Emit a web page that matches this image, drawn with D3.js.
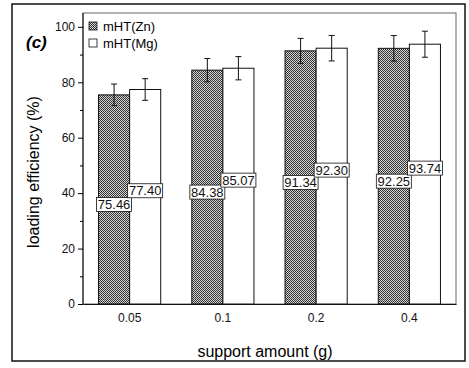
<!DOCTYPE html>
<html>
<head>
<meta charset="utf-8">
<script src="https://cdn.jsdelivr.net/npm/d3@7"></script>
<style>
  body { margin: 0; background: #fff; }
  svg { display: block; font-family: Arial, "Liberation Sans", sans-serif; }
</style>
</head>
<body>
<svg width="469" height="368"></svg>
<script>
  // Data
  var categories = ["0.05", "0.1", "0.2", "0.4"];
  var seriesNames = ["mHT(Zn)", "mHT(Mg)"];
  var znValues = [75.46, 84.38, 91.34, 92.25];
  var mgValues = [77.40, 85.07, 92.30, 93.74];
  var znErrors = [3.9, 4.2, 4.5, 4.6];
  var mgErrors = [3.9, 4.2, 4.6, 4.7];
  var yTicks = [0, 20, 40, 60, 80, 100];
  var yMinorTicks = [10, 30, 50, 70, 90];

  var margin = { top: 13, right: 13, bottom: 64, left: 83 };
  var width = 469 - margin.left - margin.right;
  var height = 368 - margin.top - margin.bottom;

  var svg = d3.select("svg");

  // hatch pattern for the Zn bars
  var defs = svg.append("defs");
  var pat = defs.append("pattern")
    .attr("id", "hatch")
    .attr("patternUnits", "userSpaceOnUse")
    .attr("width", 2)
    .attr("height", 2);
  pat.append("rect").attr("width", 2).attr("height", 2).attr("fill", "#d6d6d6");
  pat.append("rect").attr("width", 1).attr("height", 1).attr("fill", "#2a2a2a");
  pat.append("rect").attr("x", 1).attr("y", 1).attr("width", 1).attr("height", 1).attr("fill", "#3a3a3a");

  // outer frame
  svg.append("rect")
    .attr("x", 12).attr("y", 4)
    .attr("width", 453).attr("height", 357)
    .attr("fill", "none")
    .attr("stroke", "#111")
    .attr("stroke-width", 1.5);

  var g = svg.append("g")
    .attr("transform", "translate(" + margin.left + "," + margin.top + ")");

  var x0 = d3.scaleBand().domain(categories).range([0, width]).padding(0);
  var x1 = d3.scaleBand().domain(seriesNames).range([0, x0.bandwidth()])
    .paddingInner(0).paddingOuter(0.5);
  var y = d3.scaleLinear().domain([0, 105]).range([height, 0]);

  var rows = categories.map(function(c, i) {
    return [
      { cat: c, s: seriesNames[0], v: znValues[i], e: znErrors[i] },
      { cat: c, s: seriesNames[1], v: mgValues[i], e: mgErrors[i] }
    ];
  });
  var flat = d3.merge(rows);

  function fillOf(d) { return d.s === seriesNames[0] ? "url(#hatch)" : "#fff"; }
  function cx(d) { return x0(d.cat) + x1(d.s) + x1.bandwidth() / 2; }

  // plot box
  g.append("rect")
    .attr("width", width).attr("height", height)
    .attr("fill", "none")
    .attr("stroke", "#666")
    .attr("stroke-width", 1);

  // bars
  g.selectAll(".bar")
    .data(flat)
    .enter()
    .append("rect")
    .attr("class", "bar")
    .attr("x", function(d) { return x0(d.cat) + x1(d.s); })
    .attr("y", function(d) { return y(d.v); })
    .attr("width", x1.bandwidth())
    .attr("height", function(d) { return height - y(d.v); })
    .attr("fill", fillOf)
    .attr("stroke", "#111")
    .attr("stroke-width", 1);

  // error bars
  var err = g.selectAll(".err").data(flat).enter().append("g").attr("class", "err")
    .attr("stroke", "#111").attr("stroke-width", 1);
  err.append("line")
    .attr("x1", cx).attr("x2", cx)
    .attr("y1", function(d) { return y(d.v + d.e); })
    .attr("y2", function(d) { return y(d.v - d.e); });
  err.append("line")
    .attr("x1", function(d) { return cx(d) - 3; })
    .attr("x2", function(d) { return cx(d) + 3; })
    .attr("y1", function(d) { return y(d.v + d.e); })
    .attr("y2", function(d) { return y(d.v + d.e); });
  err.append("line")
    .attr("x1", function(d) { return cx(d) - 3; })
    .attr("x2", function(d) { return cx(d) + 3; })
    .attr("y1", function(d) { return y(d.v - d.e); })
    .attr("y2", function(d) { return y(d.v - d.e); });

  // value labels in boxes, around half bar height
  var lab = g.selectAll(".vlab").data(flat).enter().append("g").attr("class", "vlab")
    .attr("transform", function(d) {
      var off = d.s === seriesNames[0] ? 5 : -6;
      return "translate(" + cx(d) + "," + (y(d.v / 2) + off) + ")";
    });
  lab.append("rect")
    .attr("x", -17.5).attr("y", -7)
    .attr("width", 35).attr("height", 14)
    .attr("fill", "#fff")
    .attr("stroke", "#111")
    .attr("stroke-width", 0.8);
  lab.append("text")
    .attr("text-anchor", "middle")
    .attr("dy", "0.36em")
    .style("font-size", "13px")
    .style("fill", "#111")
    .text(function(d) { return d.v.toFixed(2); });

  // y axis
  var yAxis = d3.axisLeft(y).tickValues(yTicks).tickSize(5).tickPadding(3).tickSizeOuter(0);
  var ya = g.append("g").call(yAxis);
  ya.select(".domain").attr("stroke", "#111").attr("d", "M0," + height + "V0");
  ya.selectAll("text").style("font-size", "12px").style("fill", "#111");
  g.append("g")
    .call(d3.axisLeft(y).tickValues(yMinorTicks).tickSize(3).tickFormat(""))
    .select(".domain").remove();

  // x axis
  var xa = g.append("g")
    .attr("transform", "translate(0," + height + ")")
    .call(d3.axisBottom(x0).tickSize(0).tickPadding(9).tickSizeOuter(0));
  xa.select(".domain").attr("stroke", "#111");
  xa.selectAll("text").style("font-size", "12px").style("fill", "#111");

  // axis titles
  svg.append("text")
    .attr("x", 265).attr("y", 357)
    .attr("text-anchor", "middle")
    .style("font-size", "16px")
    .text("support amount (g)");
  svg.append("text")
    .attr("transform", "translate(39,172) rotate(-90)")
    .attr("text-anchor", "middle")
    .style("font-size", "16px")
    .text("loading efficiency (%)");

  // panel tag
  svg.append("text")
    .attr("x", 26).attr("y", 48)
    .style("font-size", "17px")
    .style("font-weight", "bold")
    .style("font-style", "italic")
    .text("(c)");

  // legend
  var leg = svg.selectAll(".leg").data(seriesNames).enter().append("g").attr("class", "leg")
    .attr("transform", function(d, i) { return "translate(89," + (22 + i * 17) + ")"; });
  leg.append("rect")
    .attr("width", 8).attr("height", 8)
    .attr("fill", function(d) { return d === seriesNames[0] ? "url(#hatch)" : "#fff"; })
    .attr("stroke", "#111").attr("stroke-width", 0.8);
  leg.append("text")
    .attr("x", 14).attr("y", 4).attr("dy", "0.36em")
    .style("font-size", "13px")
    .text(function(d) { return d; });
</script>
</body>
</html>
